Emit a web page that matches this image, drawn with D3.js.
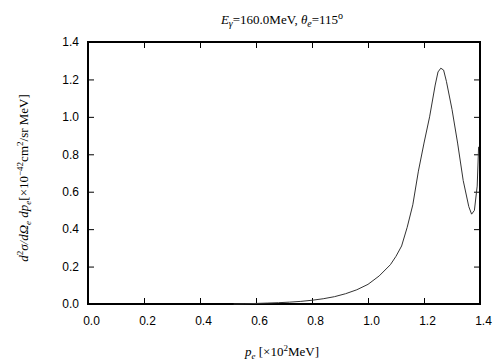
<!DOCTYPE html>
<meta charset="utf-8">
<title>Cross section</title>
<style>

    body {
        margin: 0;
        background: #fff;
    }

    .tick text {
        font-family: "Liberation Sans", Arial, sans-serif;
        font-size: 12px;
        fill: #000;
    }

    .lbl {
        font-family: "Liberation Serif", "Times New Roman", serif;
        font-size: 13px;
        fill: #000;
    }

</style>
<body>
<script src="https://d3js.org/d3.v7.min.js"></script>
<script>

    // momentum p_e [x10^2 MeV] and d2sigma/dOmega dp_e
    var pe = [0.52, 0.56, 0.60, 0.64, 0.68, 0.72, 0.76, 0.80, 0.84, 0.88, 0.92, 0.96, 1.00, 1.04, 1.08, 1.10,
              1.12, 1.14, 1.16, 1.18, 1.20, 1.22, 1.24, 1.25, 1.26, 1.27, 1.28, 1.30, 1.32, 1.34, 1.36, 1.37,
              1.38, 1.39, 1.395];
    var sigma = [0.000, 0.001, 0.003, 0.005, 0.007, 0.010, 0.014, 0.020, 0.028, 0.039, 0.055, 0.076, 0.105, 0.150, 0.210, 0.255,
                 0.31, 0.41, 0.53, 0.71, 0.86, 1.00, 1.17, 1.24, 1.26, 1.25, 1.19, 1.04, 0.86, 0.66, 0.52, 0.48,
                 0.50, 0.63, 0.84];
    var xTicks = [0.0, 0.2, 0.4, 0.6, 0.8, 1.0, 1.2, 1.4];
    var yTicks = [0.0, 0.2, 0.4, 0.6, 0.8, 1.0, 1.2, 1.4];

    var w = 504,
        h = 360,
        pLeft = 88,
        pRight = 480,
        pTop = 42,
        pBottom = 304;

    var svg = d3.select("body").append("svg")
        .attr("width", w)
        .attr("height", h);

    var x = d3.scaleLinear().domain([0, 1.4]).range([pLeft, pRight]);
    var y = d3.scaleLinear().domain([0, 1.4]).range([pBottom, pTop]);

    // axes with inward ticks, labels on bottom and left only
    function style(g) {
        g.select(".domain").remove();
        g.selectAll(".tick line").attr("stroke", "#000").attr("stroke-width", 1);
    }

    svg.append("g")
        .attr("transform", "translate(0," + pBottom + ")")
        .call(d3.axisBottom(x).tickValues(xTicks).tickFormat(d3.format(".1f")).tickSizeInner(-6).tickPadding(12))
        .call(function(g) { g.selectAll(".tick text").attr("dx", 3); })
        .call(style);

    svg.append("g")
        .attr("transform", "translate(0," + pTop + ")")
        .call(d3.axisTop(x).tickValues(xTicks).tickFormat("").tickSizeInner(-6))
        .call(style);

    svg.append("g")
        .attr("transform", "translate(" + pLeft + ",0)")
        .call(d3.axisLeft(y).tickValues(yTicks).tickFormat(d3.format(".1f")).tickSizeInner(-6).tickPadding(9))
        .call(style);

    svg.append("g")
        .attr("transform", "translate(" + pRight + ",0)")
        .call(d3.axisRight(y).tickValues(yTicks).tickFormat("").tickSizeInner(-6))
        .call(style);

    svg.append("rect")
        .attr("x", pLeft)
        .attr("y", pTop)
        .attr("width", pRight - pLeft)
        .attr("height", pBottom - pTop)
        .attr("fill", "none")
        .attr("stroke", "#000")
        .attr("stroke-width", 2);

    var line = d3.line()
        .x(function(d, i) { return x(pe[i]); })
        .y(function(d) { return y(d); });

    svg.append("path")
        .datum(sigma)
        .attr("d", line)
        .attr("fill", "none")
        .attr("stroke", "#333")
        .attr("stroke-width", 1);

    // title
    var t = svg.append("text").attr("class", "lbl")
        .attr("x", 282).attr("y", 24).attr("text-anchor", "middle")
        .attr("font-size", 14);
    t.append("tspan").style("font-style", "italic").text("E");
    t.append("tspan").style("font-style", "italic").attr("font-size", 10).attr("dy", 3).text("γ");
    t.append("tspan").attr("dy", -3).text("=160.0MeV,  ");
    t.append("tspan").style("font-style", "italic").text("θ");
    t.append("tspan").style("font-style", "italic").attr("font-size", 10).attr("dy", 3).text("e");
    t.append("tspan").attr("dy", -3).text("=115");
    t.append("tspan").attr("font-size", 10).attr("dy", -5).text("o");

    // x label
    var xl = svg.append("text").attr("class", "lbl")
        .attr("x", 282).attr("y", 356).attr("text-anchor", "middle");
    xl.append("tspan").style("font-style", "italic").text("p");
    xl.append("tspan").style("font-style", "italic").attr("font-size", 9).attr("dy", 3).text("e");
    xl.append("tspan").attr("dy", -3).text(" [×10");
    xl.append("tspan").attr("font-size", 9).attr("dy", -5).text("2");
    xl.append("tspan").attr("dy", 5).text("MeV]");

    // y label
    var yl = svg.append("text").attr("class", "lbl")
        .attr("transform", "translate(28,178)rotate(-90)")
        .attr("text-anchor", "middle");
    yl.append("tspan").style("font-style", "italic").text("d");
    yl.append("tspan").attr("font-size", 9).attr("dy", -5).text("2");
    yl.append("tspan").style("font-style", "italic").attr("dy", 5).text("σ/dΩ");
    yl.append("tspan").style("font-style", "italic").attr("font-size", 9).attr("dy", 3).text("e");
    yl.append("tspan").style("font-style", "italic").attr("dy", -3).text(" dp");
    yl.append("tspan").style("font-style", "italic").attr("font-size", 9).attr("dy", 3).text("e");
    yl.append("tspan").attr("dy", -3).text("[×10");
    yl.append("tspan").attr("font-size", 9).attr("dy", -5).text("−42");
    yl.append("tspan").attr("dy", 5).text("cm");
    yl.append("tspan").attr("font-size", 9).attr("dy", -5).text("2");
    yl.append("tspan").attr("dy", 5).text("/sr MeV]");

</script>
